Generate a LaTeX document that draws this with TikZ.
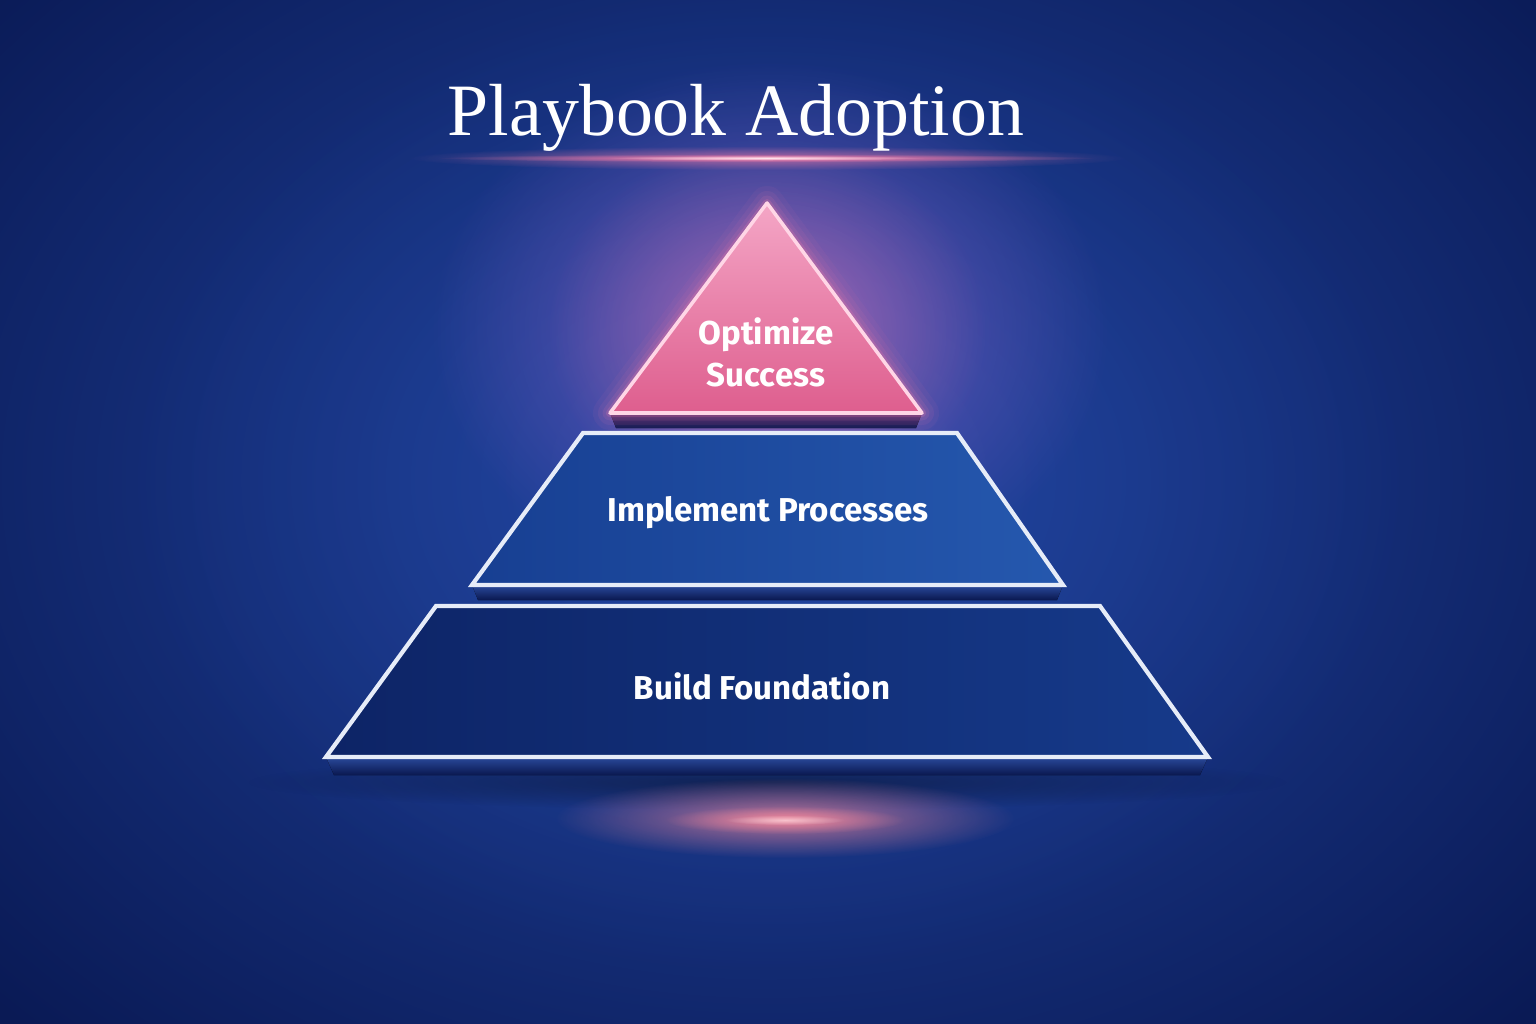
\documentclass[tikz,border=0pt]{standalone}
\usepackage{fontspec}
\setmainfont{Liberation Serif}
\setsansfont{Fira Sans}
\usetikzlibrary{fadings}
\tikzfading[name=softglow, inner color=transparent!0, outer color=transparent!100]
\definecolor{bgdark}{HTML}{0A1A55}
\definecolor{bgmid}{HTML}{2246A2}
\definecolor{glowpurple}{HTML}{8A62C8}
\definecolor{pinkglow}{HTML}{FF7FA8}
\definecolor{salmonglow}{HTML}{FF8C9C}
\definecolor{edgewhite}{HTML}{E6ECF8}
\definecolor{midleft}{HTML}{173F92}
\definecolor{midright}{HTML}{2558AE}
\definecolor{botleft}{HTML}{0D2466}
\definecolor{botright}{HTML}{163A8A}
\definecolor{tritop}{HTML}{F4A6C6}
\definecolor{tribot}{HTML}{DE5E8E}
\definecolor{triedge}{HTML}{FFD6E6}
\definecolor{slabtop}{HTML}{2A4A9C}
\definecolor{slabbot}{HTML}{0A1850}
\definecolor{apexslab}{HTML}{46286E}
\tikzset{
  tier/.style={draw=edgewhite, line width=1.2pt, line join=miter},
  slab/.style={top color=slabtop, bottom color=slabbot},
  label/.style={font=\sffamily\bfseries\fontsize{9.4}{11.9}\selectfont, text=white, align=center},
  glow/.style={path fading=softglow}
}
\begin{document}
\begin{tikzpicture}[x=0.01cm,y=-0.01cm]
\useasboundingbox (0,0) rectangle (1536,1024);
% background
\fill[bgdark] (0,0) rectangle (1536,1024);
\fill[bgmid, glow] (768,480) ellipse [x radius=1050, y radius=780];
\fill[bgmid, glow, opacity=0.6] (768,480) ellipse [x radius=650, y radius=500];
% purple glow behind apex
\fill[glowpurple, glow, opacity=0.75] (770,330) ellipse [x radius=340, y radius=270];
\fill[pinkglow, glow, opacity=0.4] (767,330) ellipse [x radius=220, y radius=190];
% title glow line
\fill[pinkglow, glow, opacity=0.6] (767,158) ellipse [x radius=360, y radius=12];
\fill[pinkglow, glow, opacity=0.95] (767,158) ellipse [x radius=330, y radius=4];
\fill[white, glow, opacity=0.8] (767,158) ellipse [x radius=160, y radius=2.5];
% floor shadow and bottom glow
\fill[black, glow, opacity=0.4] (767,782) ellipse [x radius=520, y radius=28];
\fill[salmonglow, glow, opacity=0.7] (785,818) ellipse [x radius=230, y radius=40];
\fill[salmonglow, glow, opacity=0.8] (785,820) ellipse [x radius=120, y radius=14];
\fill[white, glow, opacity=0.5] (785,820) ellipse [x radius=60, y radius=5];
% title
\node[font=\fontsize{21}{24}\selectfont, text=white, anchor=base] (title) at (736,135) {Playbook Adoption};
% bottom tier
\fill[slab] (326,757) -- (1208,757) -- (1200,775) -- (334,775) -- cycle;
\path[tier, left color=botleft, right color=botright] (436,606) -- (1100,606) -- (1208,757) -- (326,757) -- cycle;
\node[label] (base) at (762,686) {Build Foundation};
% middle tier
\fill[slab] (472,585) -- (1063,585) -- (1057,600) -- (478,600) -- cycle;
\path[tier, left color=midleft, right color=midright] (583,433) -- (957,433) -- (1063,585) -- (472,585) -- cycle;
\node[label] (mid) at (768,513) {Implement Processes};
% apex
\fill[top color=apexslab, bottom color=slabbot] (610,413) -- (922,413) -- (916,428) -- (616,428) -- cycle;
\foreach \w/\o in {34/0.05,24/0.07,15/0.1,8/0.18}{
  \draw[pinkglow, line width=\w*0.2845pt, opacity=\o, line join=round] (767,203) -- (922,413) -- (610,413) -- cycle;
}
\path[draw=triedge, line width=1pt, line join=round, top color=tritop, bottom color=tribot] (767,203) -- (922,413) -- (610,413) -- cycle;
\node[label] (top) at (766,352) {Optimize\\Success};
\end{tikzpicture}
\end{document}
